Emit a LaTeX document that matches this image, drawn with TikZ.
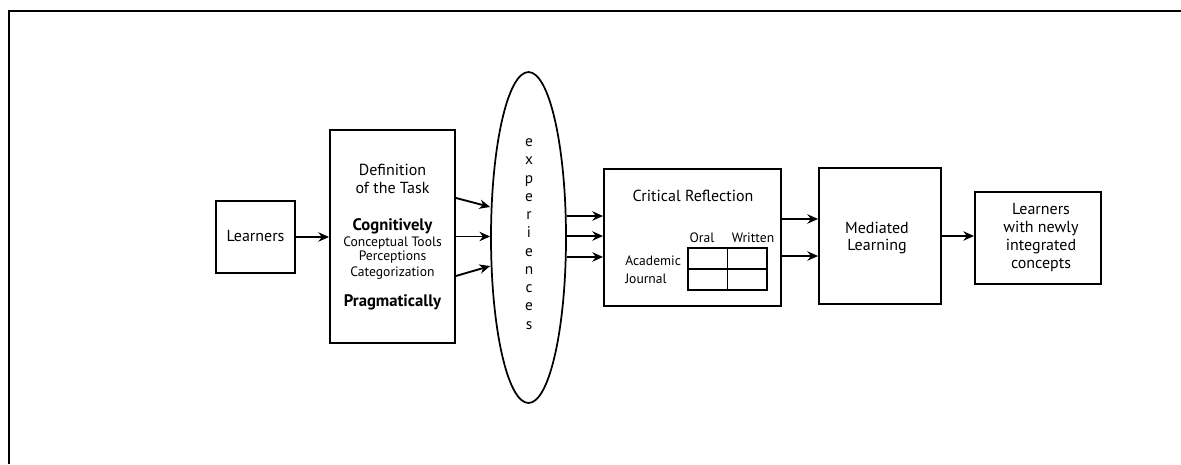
\documentclass[tikz,border=0pt]{standalone}
\usepackage{fontspec}
\setmainfont{PT Sans}
\usetikzlibrary{shapes.geometric,arrows.meta}
\begin{document}
\begin{tikzpicture}[x=0.75pt,y=-0.75pt,
  box/.style={draw,line width=1.4pt,inner sep=0pt},
  arr/.style={line width=1.4pt,-{Stealth[length=8pt,width=7pt]}},
  txt/.style={inner sep=0pt,font=\fontsize{12}{14}\selectfont},
  small/.style={inner sep=0pt,font=\fontsize{10.2}{12}\selectfont},
  bld/.style={inner sep=0pt,font=\fontsize{12.5}{14}\selectfont\bfseries},
]
\useasboundingbox (0,0) rectangle (1181,464);
\draw[line width=2.2pt] (1181,11) -- (9,11) -- (9,464);
% boxes
\node[box,minimum width=59.25pt,minimum height=54pt] (l1) at (255.5,237) {};
\node[box,minimum width=93.75pt,minimum height=159.75pt] (def) at (392.5,236.5) {};
\node[draw,line width=1.3pt,ellipse,inner sep=0pt,minimum width=56.25pt,minimum height=248.25pt] (ell) at (528.5,237.5) {};
\node[box,minimum width=132.75pt,minimum height=102.75pt] (cr) at (692.5,237.5) {};
\node[box,minimum width=91.5pt,minimum height=102pt] (med) at (880,236) {};
\node[box,minimum width=94.5pt,minimum height=69pt] (fin) at (1038,238) {};
% texts
\node[txt] (t1) at (255.5,236) {Learners};
\node[txt] (d1) at (392.5,170) {Definition};
\node[txt] (d2) at (392.5,188) {of the Task};
\node[bld] (d3) at (392.5,226) {Cognitively};
\node[small] (d4) at (392.5,243) {Conceptual Tools};
\node[small] (d5) at (392.5,257) {Perceptions};
\node[small] (d6) at (392.5,273) {Categorization};
\node[bld] (d7) at (392.5,302) {Pragmatically};
\node[inner sep=0pt,align=center,font=\fontsize{11.5}{13.7}\selectfont] (exp) at (529,234)
  {e\\x\\p\\e\\r\\i\\e\\n\\c\\e\\s};
\node[txt] (c1) at (693,196) {Critical Reflection};
\node[small] (c2) at (702,238) {Oral};
\node[small] (c3) at (753,238) {Written};
\node[small,anchor=west] (c4) at (625,261) {Academic};
\node[small,anchor=west] (c5) at (625,279) {Journal};
\node[draw,line width=0.9pt,inner sep=0pt,minimum width=59.25pt,minimum height=31.5pt] (tbl) at (727.5,269) {};
\draw[line width=0.9pt] (tbl.north) -- (tbl.south);
\draw[line width=0.9pt] (tbl.west) -- (tbl.east);
\node[txt] (m1) at (877,228) {Mediated};
\node[txt] (m2) at (877,247) {Learning};
\node[txt] (f1) at (1041,209) {Learners};
\node[txt] (f2) at (1041,228) {with newly};
\node[txt] (f3) at (1041,247) {integrated};
\node[txt] (f4) at (1041,265) {concepts};
% arrows
\draw[arr] (l1.east) -- (l1.east -| def.west);
\draw[arr] ([yshift=28.9pt]def.east) -- ([yshift=22.9pt]ell.west);
\draw[arr] (def.east) -- (def.east -| ell.west);
\draw[arr] ([yshift=-29.6pt]def.east) -- ([yshift=-21.4pt]ell.west);
\draw[arr] ([yshift=16.1pt]ell.east) -- ([yshift=16.1pt]cr.west);
\draw[arr] ([yshift=1.1pt]ell.east) -- ([yshift=1.1pt]cr.west);
\draw[arr] ([yshift=-14.6pt]ell.east) -- ([yshift=-14.6pt]cr.west);
\draw[arr] ([yshift=13.9pt]cr.east) coordinate (a1) -- (a1 -| med.west);
\draw[arr] ([yshift=-13.9pt]cr.east) coordinate (a2) -- (a2 -| med.west);
\draw[arr] (med.east) -- (med.east -| fin.west);
\end{tikzpicture}
\end{document}
